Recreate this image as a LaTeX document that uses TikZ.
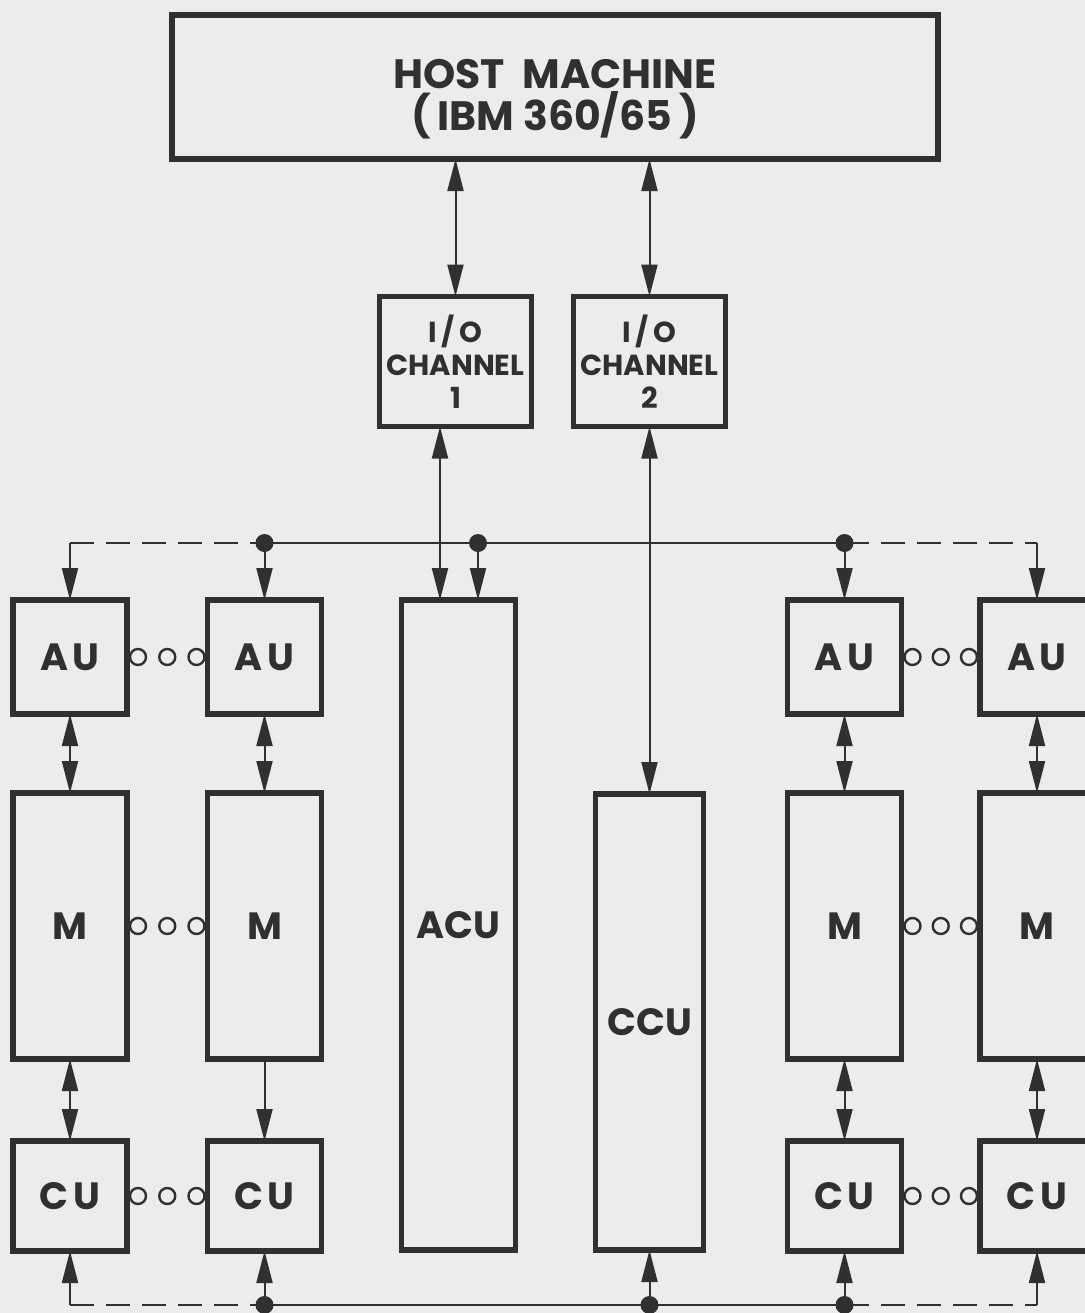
\documentclass[tikz,border=0pt]{standalone}
\usepackage{fontspec}
\setmainfont{Poppins}
\newfontfamily\spacedfont{Poppins}[LetterSpace=12]
\usetikzlibrary{arrows.meta,calc}
\definecolor{ink}{RGB}{48,48,48}
\definecolor{paper}{RGB}{236,236,236}
\begin{document}
\begin{tikzpicture}[x=0.5pt,y=-0.5pt,
  blk/.style={draw=ink, line width=2.7pt, inner sep=0pt, outer sep=0pt, text=ink, align=center},
  aubox/.style={blk, minimum width=57pt, minimum height=57pt, font=\spacedfont\bfseries\fontsize{19}{20}\selectfont},
  mbox/.style={blk, minimum width=57pt, minimum height=133pt, font=\bfseries\fontsize{19}{20}\selectfont},
  cubox/.style={blk, minimum width=57pt, minimum height=55pt, font=\spacedfont\bfseries\fontsize{19}{20}\selectfont},
  iobox/.style={blk, minimum width=76pt, minimum height=65pt, font=\bfseries\fontsize{14.5}{16.5}\selectfont},
  conn/.style={draw=ink, line width=1pt},
  tip/.style={conn, -{Triangle[length=16pt,width=8pt]}},
  dbl/.style={conn, {Triangle[length=16pt,width=8pt]}-{Triangle[length=16pt,width=8pt]}},
  dashline/.style={conn, dash pattern=on 12pt off 6pt},
  ring/.style={draw=ink, line width=1.2pt},
  dotc/.style={fill=ink}
]
\fill[paper] (0,0) rectangle (1085,1313);
\useasboundingbox (0,0) rectangle (1085,1313);
\clip (0,0) rectangle (1085,1313);

% boxes
\node[blk, minimum width=383pt, minimum height=72pt, font=\bfseries\fontsize{20.5}{21}\selectfont] (host) at (555,87) {\rule{0pt}{27pt}HOST\ \ MACHINE\\(\,IBM 360/65\,)};
\node[iobox] (io1) at (455.5,361.5) {I\,/\,O\\CHANNEL\\1};
\node[iobox] (io2) at (649.5,361.5) {I\,/\,O\\CHANNEL\\2};

\node[aubox] (au1) at (70,657) {AU};
\node[aubox] (au2) at (264.5,657) {AU};
\node[aubox] (au3) at (844.5,657) {AU};
\node[aubox] (au4) at (1037,657) {AU};

\node[mbox] (m1) at (70,926) {M};
\node[mbox] (m2) at (264.5,926) {M};
\node[mbox] (m3) at (844.5,926) {M};
\node[mbox] (m4) at (1037,926) {M};

\node[cubox] (cu1) at (70,1196) {CU};
\node[cubox] (cu2) at (264.5,1196) {CU};
\node[cubox] (cu3) at (844.5,1196) {CU};
\node[cubox] (cu4) at (1037,1196) {CU};

\node[blk, minimum width=57pt, minimum height=325pt, font=\bfseries\fontsize{19}{20}\selectfont] (acu) at (458.5,925) {ACU};
\node[blk, minimum width=54pt, minimum height=228pt, font=\bfseries\fontsize{19}{20}\selectfont] (ccu) at (649.5,1022) {CCU};

% helper coordinates
\coordinate (bus) at (0,543);
\coordinate (bbus) at (0,1305);
\coordinate (acuL) at ([xshift=-9.25pt]acu.north);
\coordinate (acuR) at ([xshift=9.75pt]acu.north);

% host <-> channels
\draw[dbl] (io1.north |- host.south) -- (io1.north);
\draw[dbl] (io2.north |- host.south) -- (io2.north);
\draw[dbl] (acuL |- io1.south) -- (acuL);
\draw[dbl] (io2.south) -- (ccu.north);

% top bus
\draw[dashline] (au1.north |- bus) -- (au2.north |- bus);
\draw[conn] (au2.north |- bus) -- (au3.north |- bus);
\draw[dashline] (au3.north |- bus) -- (au4.north |- bus);
\draw[tip] (au1.north |- bus) -- (au1.north);
\draw[tip] (au2.north |- bus) -- (au2.north);
\draw[tip] (acuR |- bus) -- (acuR);
\draw[tip] (au3.north |- bus) -- (au3.north);
\draw[tip] (au4.north |- bus) -- (au4.north);
\fill[dotc] (au2.north |- bus) circle[radius=4.5pt];
\fill[dotc] (acuR |- bus) circle[radius=4.5pt];
\fill[dotc] (au3.north |- bus) circle[radius=4.5pt];

% AU <-> M
\draw[dbl] (au1.south) -- (m1.north);
\draw[dbl] (au2.south) -- (m2.north);
\draw[dbl] (au3.south) -- (m3.north);
\draw[dbl] (au4.south) -- (m4.north);

% M <-> CU
\draw[dbl] (m1.south) -- (cu1.north);
\draw[tip] (m2.south) -- (cu2.north);
\draw[dbl] (m3.south) -- (cu3.north);
\draw[dbl] (m4.south) -- (cu4.north);

% bottom bus
\draw[dashline] (cu1.south |- bbus) -- (cu2.south |- bbus);
\draw[conn] (cu2.south |- bbus) -- (cu3.south |- bbus);
\draw[dashline] (cu3.south |- bbus) -- (cu4.south |- bbus);
\draw[tip] (cu1.south |- bbus) -- (cu1.south);
\draw[tip] (cu2.south |- bbus) -- (cu2.south);
\draw[tip] (ccu.south |- bbus) -- (ccu.south);
\draw[tip] (cu3.south |- bbus) -- (cu3.south);
\draw[tip] (cu4.south |- bbus) -- (cu4.south);
\fill[dotc] (cu2.south |- bbus) circle[radius=4.5pt];
\fill[dotc] (ccu.south |- bbus) circle[radius=4.5pt];
\fill[dotc] (cu3.south |- bbus) circle[radius=4.5pt];

% ellipsis rings
\foreach \a/\b in {au1/au2, au3/au4, m1/m2, m3/m4, cu1/cu2, cu3/cu4}{
  \draw[ring] ($(\a.east)+(11,0)$) circle[radius=4pt];
  \draw[ring] ($(\a.east)!0.5!(\b.west)$) circle[radius=4pt];
  \draw[ring] ($(\b.west)+(-11,0)$) circle[radius=4pt];
}
\end{tikzpicture}
\end{document}
